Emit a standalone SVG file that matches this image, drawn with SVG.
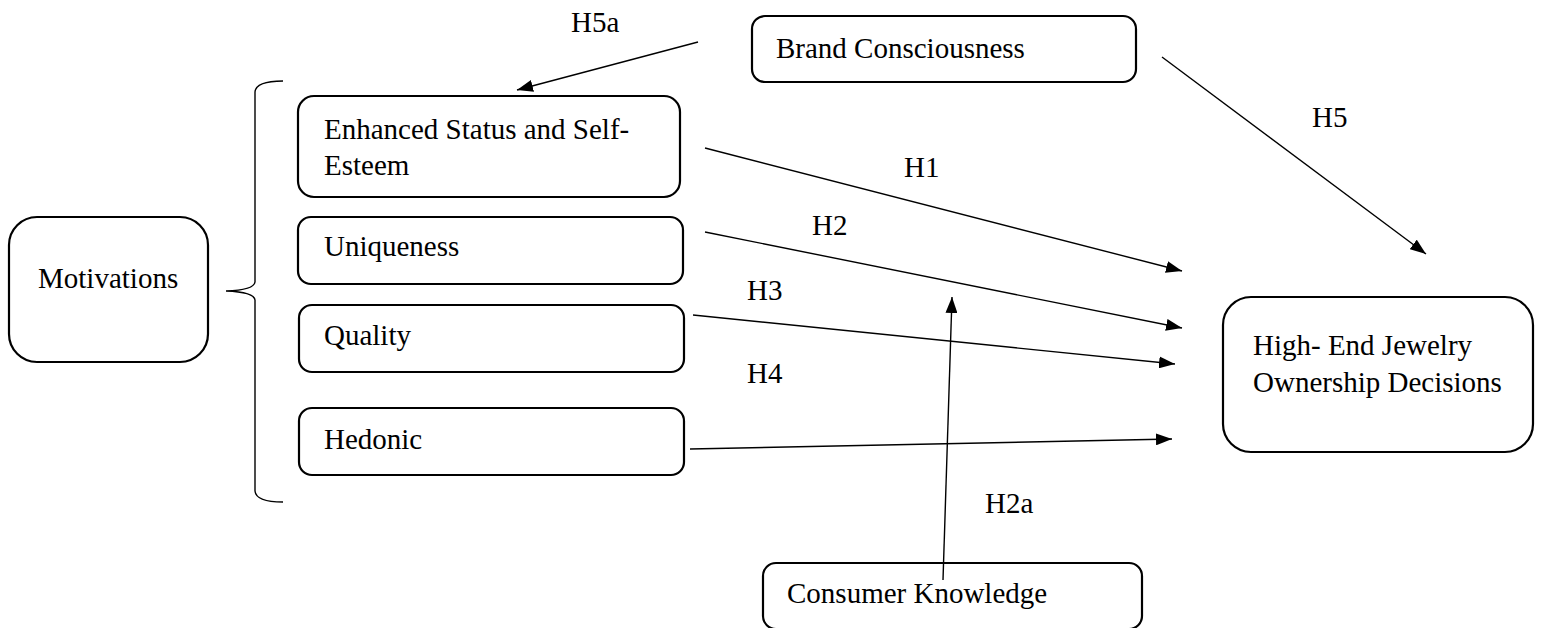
<svg xmlns="http://www.w3.org/2000/svg" width="1541" height="628" viewBox="0 0 1541 628">
<style>
.box{fill:#fff;stroke:#000;stroke-width:2.2}
.t{font-family:"Liberation Serif","Times New Roman",serif;font-size:29px;fill:#000}
.c{fill:none;stroke:#000;stroke-width:1.4}
</style>
<defs>
<marker id="ah" viewBox="0 0 16 12" refX="16" refY="6" markerWidth="16" markerHeight="12" markerUnits="userSpaceOnUse" orient="auto">
<path d="M0,0 L16,6 L0,12 z" fill="#000"/>
</marker>
</defs>
<rect width="1541" height="628" fill="#fff"/>
<g id="motivations">
<rect class="box" x="9" y="217" width="199" height="145" rx="28"/>
<text class="t" x="38" y="288">Motivations</text>
</g>
<g id="brace">
<path class="c" d="M283,81 Q256,81 255,92 L255,282 Q254,290 226,291 Q254,292 255,300 L255,491 Q256,502 283,502"/>
</g>
<g id="enhanced">
<rect class="box" x="298" y="96" width="382" height="101" rx="16"/>
<text class="t" x="324" y="139">Enhanced Status and Self-</text>
<text class="t" x="324" y="175">Esteem</text>
</g>
<g id="uniqueness">
<rect class="box" x="298" y="217" width="385" height="67" rx="13"/>
<text class="t" x="324" y="256">Uniqueness</text>
</g>
<g id="quality">
<rect class="box" x="299" y="305" width="385" height="67" rx="13"/>
<text class="t" x="324" y="345">Quality</text>
</g>
<g id="hedonic">
<rect class="box" x="299" y="408" width="385" height="67" rx="13"/>
<text class="t" x="324" y="449">Hedonic</text>
</g>
<g id="brand">
<rect class="box" x="752" y="16" width="384" height="66" rx="13"/>
<text class="t" x="776" y="58">Brand Consciousness</text>
</g>
<g id="consumer">
<rect class="box" x="763" y="563" width="379" height="66" rx="13"/>
<text class="t" x="787" y="603">Consumer Knowledge</text>
</g>
<g id="decisions">
<rect class="box" x="1223" y="297" width="310" height="155" rx="28"/>
<text class="t" x="1253" y="355">High- End Jewelry</text>
<text class="t" x="1253" y="392">Ownership Decisions</text>
</g>
<g id="connectors">
<line class="c" x1="698" y1="42" x2="517" y2="90" marker-end="url(#ah)"/>
<line class="c" x1="1162" y1="57" x2="1426" y2="254" marker-end="url(#ah)"/>
<line class="c" x1="705" y1="148" x2="1182" y2="271" marker-end="url(#ah)"/>
<line class="c" x1="705" y1="232" x2="1182" y2="328" marker-end="url(#ah)"/>
<line class="c" x1="693" y1="315" x2="1175" y2="364" marker-end="url(#ah)"/>
<line class="c" x1="690" y1="449" x2="1172" y2="439" marker-end="url(#ah)"/>
<line class="c" x1="943" y1="580" x2="952" y2="297" marker-end="url(#ah)"/>
</g>
<g id="labels">
<text class="t" x="571" y="32">H5a</text>
<text class="t" x="1312" y="127">H5</text>
<text class="t" x="904" y="177">H1</text>
<text class="t" x="812" y="235">H2</text>
<text class="t" x="747" y="300">H3</text>
<text class="t" x="747" y="383">H4</text>
<text class="t" x="985" y="513">H2a</text>
</g>
</svg>
